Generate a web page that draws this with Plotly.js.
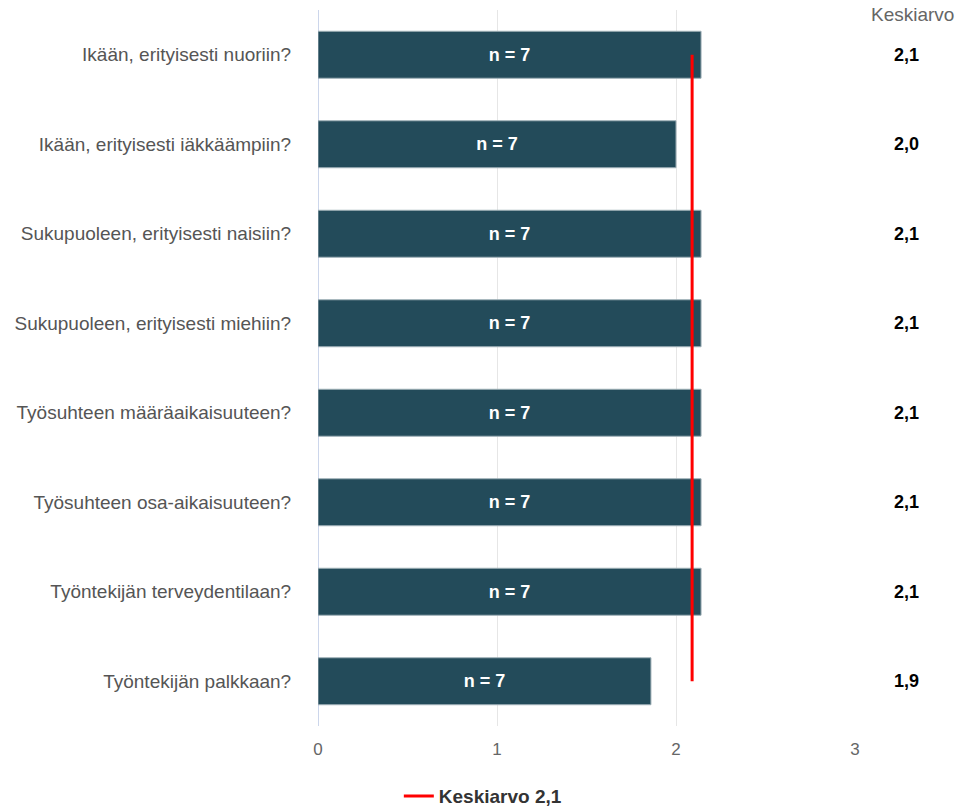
<!DOCTYPE html>
<html>
<head>
<meta charset="utf-8">
<script src="https://cdn.plot.ly/plotly-3.0.1.min.js"></script>
<style>html,body{margin:0;padding:0;background:#fff;}#chart{width:958px;height:809px;}</style>
</head>
<body>
<div id="chart"></div>
<script>
const categories = [
  "Ikään, erityisesti nuoriin?",
  "Ikään, erityisesti iäkkäämpiin?",
  "Sukupuoleen, erityisesti naisiin?",
  "Sukupuoleen, erityisesti miehiin?",
  "Työsuhteen määräaikaisuuteen?",
  "Työsuhteen osa-aikaisuuteen?",
  "Työntekijän terveydentilaan?",
  "Työntekijän palkkaan?"
];
const values = [2.14, 2.0, 2.14, 2.14, 2.14, 2.14, 2.14, 1.86];
const nCounts = [7, 7, 7, 7, 7, 7, 7, 7];
const overallMean = 2.09;
const xTicks = [0, 1, 2, 3];

const FONT = 'Liberation Sans, Arial, sans-serif';
const fmt = v => v.toFixed(1).replace('.', ',');

const barTrace = {
  type: 'bar',
  orientation: 'h',
  y: categories,
  x: values,
  text: nCounts.map(n => '<b>n = ' + n + '</b>'),
  textposition: 'inside',
  insidetextanchor: 'middle',
  textfont: {family: FONT, size: 18, color: '#ffffff'},
  marker: {color: '#234b5a', line: {color: '#9fb0b7', width: 1}},
  hoverinfo: 'skip',
  showlegend: false
};

const meanTrace = {
  type: 'scatter',
  mode: 'lines',
  x: [overallMean, overallMean],
  y: [categories[0], categories[categories.length - 1]],
  line: {color: '#ff0000', width: 3},
  name: '<b>Keskiarvo ' + fmt(overallMean) + '</b>',
  hoverinfo: 'skip'
};

const annotations = [{
  xref: 'paper', yref: 'paper',
  x: 1 + (912 - 855) / 537, y: 1 - 5 / 716,
  text: 'Keskiarvo', showarrow: false,
  xanchor: 'center', yanchor: 'middle',
  font: {family: FONT, size: 19, color: '#666666'}
}];
categories.forEach((c, i) => {
  annotations.push({
    xref: 'paper', yref: 'y',
    x: 1 + (906 - 855) / 537, y: c,
    text: '<b>' + fmt(values[i]) + '</b>', showarrow: false,
    xanchor: 'center', yanchor: 'middle',
    font: {family: FONT, size: 18, color: '#000000'}
  });
});

const layout = {
  width: 958, height: 809,
  margin: {l: 318, r: 103, t: 10, b: 83, autoexpand: false},
  paper_bgcolor: '#ffffff', plot_bgcolor: '#ffffff',
  bargap: 0.475,
  font: {family: FONT},
  xaxis: {
    range: [0, 3],
    tickvals: xTicks,
    ticktext: xTicks.map(String),
    showgrid: true, gridcolor: '#e6e6e6', gridwidth: 1,
    zeroline: true, zerolinecolor: '#ccd6eb', zerolinewidth: 1,
    showline: false,
    ticks: 'outside', ticklen: 8, tickcolor: 'rgba(0,0,0,0)',
    tickfont: {size: 17, color: '#666666'},
    fixedrange: true
  },
  yaxis: {
    categoryorder: 'array', categoryarray: categories,
    autorange: 'reversed',
    showgrid: false, zeroline: false, showline: false,
    ticks: 'outside', ticklen: 22, tickcolor: 'rgba(0,0,0,0)',
    tickfont: {size: 19, color: '#555555'},
    fixedrange: true
  },
  showlegend: true,
  legend: {
    orientation: 'h',
    xref: 'container', x: 0.504, xanchor: 'center',
    yref: 'paper', y: -0.098, yanchor: 'middle',
    font: {size: 19, color: '#333333'},
    tracegroupgap: 0
  },
  annotations: annotations
};

Plotly.newPlot('chart', [barTrace, meanTrace], layout, {displayModeBar: false, staticPlot: true});
</script>
</body>
</html>
